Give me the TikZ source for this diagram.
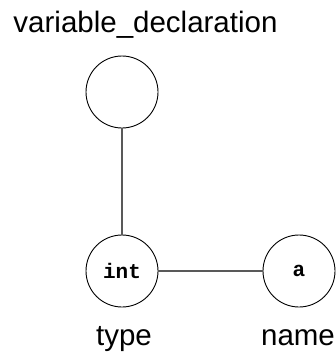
\documentclass[tikz,border=0pt]{standalone}
\usepackage{fontspec}
\setmainfont{Liberation Sans}
\newfontfamily\codefont{Liberation Mono}
\usetikzlibrary{positioning}

\begin{document}
\begin{tikzpicture}[x=1pt,y=-1pt,
            treenode/.style={
                circle,
                draw=black,
                line width=0.9pt,
                minimum size=72pt,
                inner sep=0pt,
                font=\codefont\bfseries\fontsize{21}{21}\selectfont
            },
            tag/.style={
                inner sep=0pt,
                anchor=base,
                font=\fontsize{29.5}{29.5}\selectfont
            },
            edge/.style={
                draw=black!65,
                line width=1.5pt
            }
        ]
        \useasboundingbox (0,0) rectangle (336,356);

        % Tree nodes
        \node (decl) [treenode] at (122,92) {};
        \node (type) [treenode] at (122,271) {int};
        \node (name) [treenode] at (299,271) {a};

        % Edges
        \draw[edge] (decl) -- (type);
        \draw[edge] (type) -- (name);

        % Labels
        \node (decllabel) [tag] at (145.5,32) {variable\_declaration};
        \node (typelabel) [tag] at (124,345) {type};
        \node (namelabel) [tag] at (298,345) {name};

        \end{tikzpicture}
\end{document}
